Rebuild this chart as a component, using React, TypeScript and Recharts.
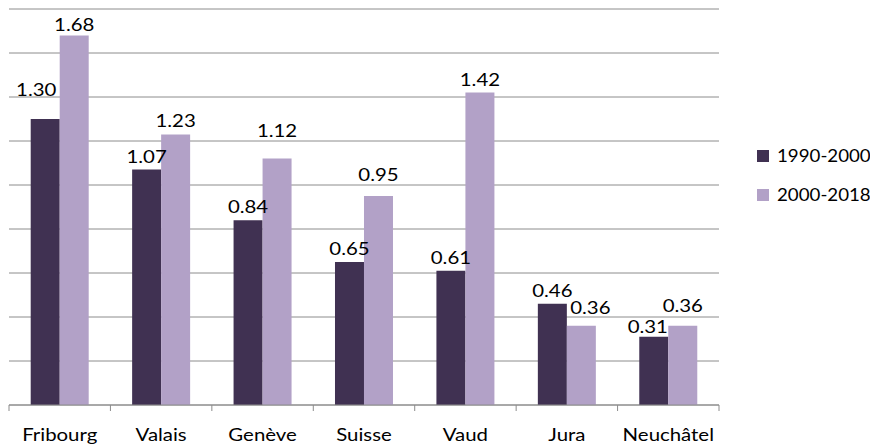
import React from 'react';
import { BarChart, Bar, XAxis, YAxis, CartesianGrid, LabelList } from 'recharts';

const categories = ['Fribourg', 'Valais', 'Genève', 'Suisse', 'Vaud', 'Jura', 'Neuchâtel'];
const values1990 = [1.3, 1.07, 0.84, 0.65, 0.61, 0.46, 0.31];
const values2000 = [1.68, 1.23, 1.12, 0.95, 1.42, 0.36, 0.36];
const yTicks = [0, 0.2, 0.4, 0.6, 0.8, 1.0, 1.2, 1.4, 1.6, 1.8];
const seriesNames = ['1990-2000', '2000-2018'];

const COLORS = ['#403152', '#B2A1C7'];
const GRID = '#8c8c8c';
const FONT = 'Lato, "Open Sans", sans-serif';
const FS = 17;
const SX = 1.2;
const LEGEND_SX = 1.1;

// label nudges (style only): [dx, extra lift]
const nudgeA: Record<string, [number, number]> = {
  Fribourg: [-9, 16],
  Neuchâtel: [-6, -3],
};
const nudgeB: Record<string, [number, number]> = {
  Fribourg: [0, -3],
  Genève: [0, 15],
  Suisse: [0, 8],
  Jura: [9, 5],
  Neuchâtel: [0, 7],
};

const data = categories.map((name, i) => ({ name, a: values1990[i], b: values2000[i] }));

const makeLabel = (nudges: Record<string, [number, number]>) => (props: any) => {
  const { x, y, width, value, index } = props;
  const n = nudges[categories[index]] || [0, 0];
  const cx = Number(x) + Number(width) / 2 + n[0];
  const cy = Number(y) - 7 - n[1];
  return (
    <text
      transform={`translate(${cx},${cy}) scale(${SX},1)`}
      textAnchor="middle"
      fontFamily={FONT}
      fontSize={FS}
      fill="#000"
    >
      {Number(value).toFixed(2)}
    </text>
  );
};

const Tick = (props: any) => {
  const { x, y, payload, index } = props;
  const half = payload && payload.offset ? payload.offset : 50.7;
  const axisY = y - 8;
  return (
    <g>
      <line x1={x - half} x2={x - half} y1={axisY} y2={axisY + 6} stroke={GRID} />
      {index === categories.length - 1 && (
        <line x1={x + half} x2={x + half} y1={axisY} y2={axisY + 6} stroke={GRID} />
      )}
      <text
        transform={`translate(${x},${axisY + 36}) scale(${SX},1)`}
        textAnchor="middle"
        fontFamily={FONT}
        fontSize={FS}
        fill="#000"
      >
        {payload.value}
      </text>
    </g>
  );
};

const LegendBox = () => (
  <div style={{ position: 'absolute', left: 749, top: 128, fontFamily: FONT, fontSize: FS }}>
    {seriesNames.map((s, i) => (
      <div key={s} style={{ display: 'flex', alignItems: 'center', height: 39 }}>
        <div style={{ width: 12, height: 12, background: COLORS[i], marginRight: 8, flex: 'none' }} />
        <span style={{ display: 'inline-block', transform: `scaleX(${LEGEND_SX})`, transformOrigin: 'left center', whiteSpace: 'nowrap' }}>
          {s}
        </span>
      </div>
    ))}
  </div>
);

export default function App() {
  return (
    <div style={{ position: 'relative', width: 870, height: 437 }}>
      <BarChart
        width={870}
        height={437}
        data={data}
        margin={{ top: 1, right: 159, left: 1, bottom: 0 }}
        barCategoryGap="21.4%"
        barGap={0}
      >
        <CartesianGrid vertical={false} stroke={GRID} />
        <XAxis
          dataKey="name"
          height={40}
          interval={0}
          axisLine={{ stroke: GRID }}
          tickLine={false}
          tick={<Tick />}
        />
        <YAxis hide domain={[0, 1.8]} ticks={yTicks} />
        <Bar dataKey="a" name={seriesNames[0]} fill={COLORS[0]} isAnimationActive={false}>
          <LabelList dataKey="a" content={makeLabel(nudgeA)} />
        </Bar>
        <Bar dataKey="b" name={seriesNames[1]} fill={COLORS[1]} isAnimationActive={false}>
          <LabelList dataKey="b" content={makeLabel(nudgeB)} />
        </Bar>
      </BarChart>
      <LegendBox />
    </div>
  );
}
